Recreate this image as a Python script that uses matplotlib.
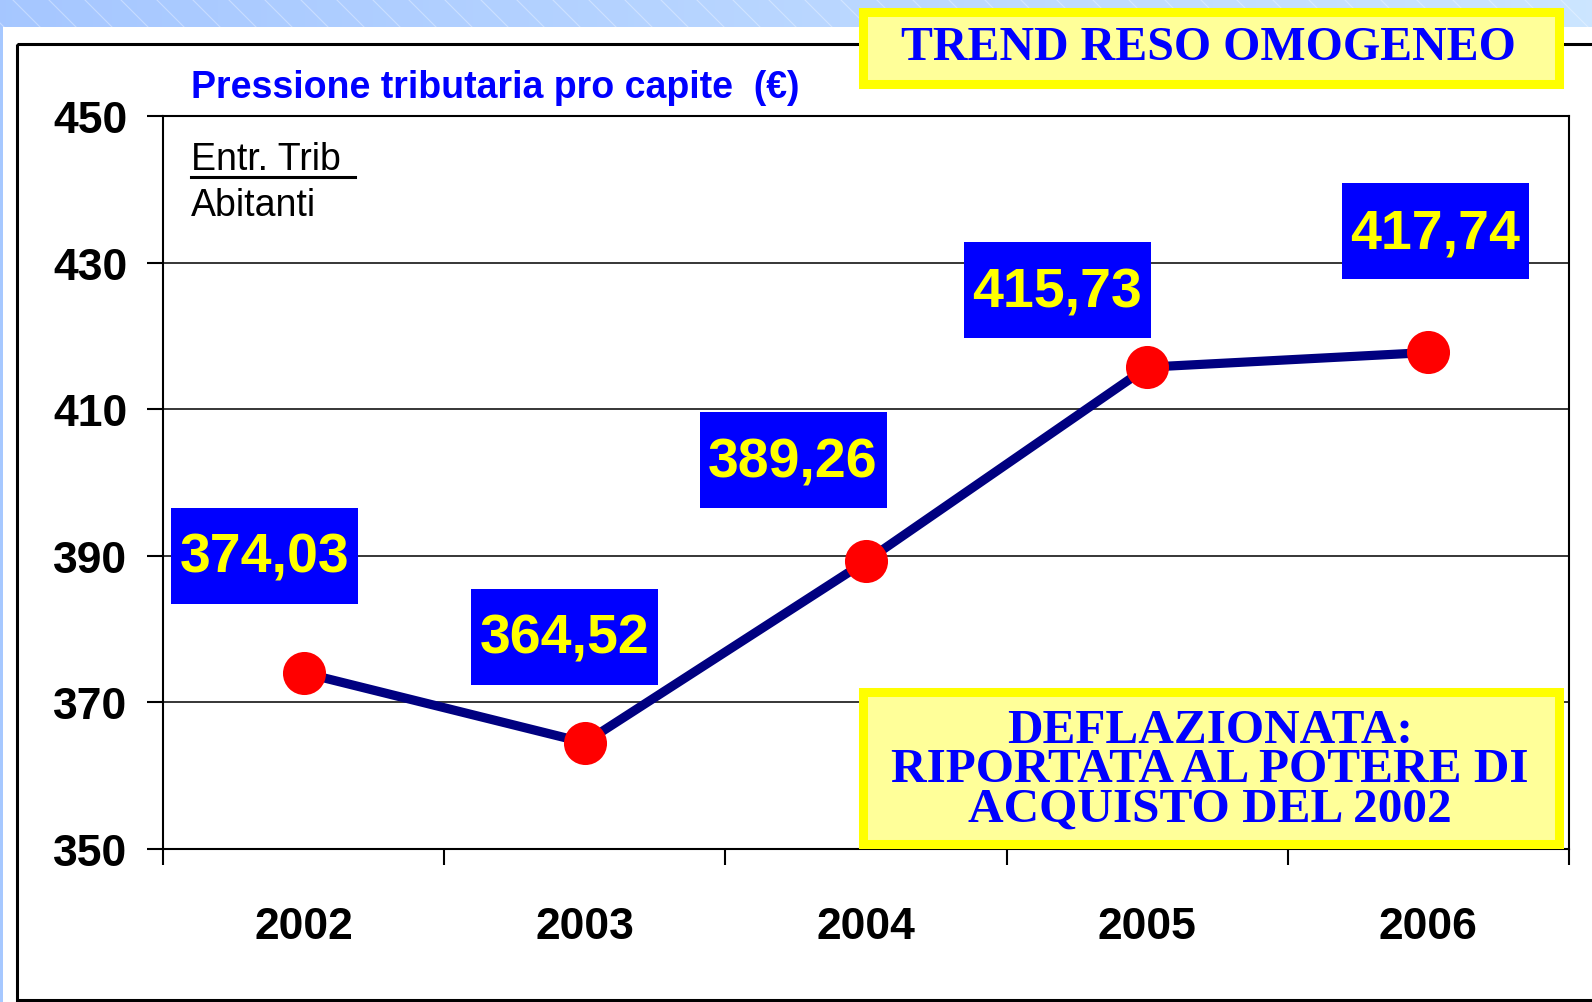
import numpy as np
import matplotlib
matplotlib.use("Agg")
import matplotlib.pyplot as plt
from matplotlib.patches import Rectangle

# dati
anni = ["2002", "2003", "2004", "2005", "2006"]
pressione = [374.03, 364.52, 389.26, 415.73, 417.74]
y_ticks = [350, 370, 390, 410, 430, 450]
# spostamento delle etichette rispetto al punto (pixel, y verso l'alto)
label_offsets = [(-39, 117), (-20, 106), (-73, 101), (-90, 77), (7, 121)]

W, H = 1592, 1003
fig = plt.figure(figsize=(W / 100, H / 100), dpi=100)

sans = "Liberation Sans"
serif = "Liberation Serif"

# sfondo (coordinate in pixel)
bg = fig.add_axes([0, 0, 1, 1], zorder=0)
bg.set_xlim(0, W)
bg.set_ylim(H, 0)
bg.axis("off")
grad = np.linspace(0, 1, 256)
c1 = np.array([0.65, 0.78, 1.0])
c2 = np.array([0.80, 0.90, 1.0])
img = (c1[None, :] * (1 - grad[:, None]) + c2[None, :] * grad[:, None])[None, :, :]
bg.imshow(img, extent=(0, W, 28, 0), aspect="auto", zorder=0)
for x0 in range(-60, W + 40, 36):
    bg.plot([x0, x0 + 28], [0, 28], color="white", alpha=0.35, lw=0.8, zorder=1)
bg.add_patch(Rectangle((0, 28), 3, H - 28, color="#A6C8FF", lw=0, zorder=1))
bg.add_patch(Rectangle((17, 45), 1650, 956, fill=False, ec="black", lw=2.2, zorder=2))

# grafico
ax = fig.add_axes([163 / W, 1 - 850 / H, (1569 - 163) / W, (850 - 117) / H], zorder=1)
x = np.arange(len(anni))
ax.plot(x, pressione, color="#000080", lw=6.6, zorder=3)
ax.plot(x, pressione, "o", color="#FF0000", ms=31, mec="none", zorder=4)

ax.set_xlim(-0.5, len(anni) - 0.5)
ax.set_ylim(y_ticks[0], y_ticks[-1])
ax.set_yticks(y_ticks)
ax.set_yticklabels([str(v) for v in y_ticks], fontfamily=sans, fontweight="bold", fontsize=32)
ax.set_xticks(x)
ax.set_xticklabels(anni, fontfamily=sans, fontweight="bold", fontsize=32)
ax.set_xticks(np.arange(len(anni) + 1) - 0.5, minor=True)
ax.tick_params(axis="x", which="major", length=0, pad=41)
ax.tick_params(axis="x", which="minor", length=11.5, width=1.5, direction="out")
ax.tick_params(axis="y", length=11.5, width=1.5, direction="out", pad=14)
ax.grid(axis="y", color="black", lw=1.1)
for s in ax.spines.values():
    s.set_linewidth(1.5)
ax.set_axisbelow(True)

# riquadri e testi sopra il grafico
ov = fig.add_axes([0, 0, 1, 1], zorder=2)
ov.set_xlim(0, W)
ov.set_ylim(H, 0)
ov.axis("off")
ov.patch.set_alpha(0)

# etichette dei valori
bw, bh = 187, 96
for xi, v, (dx, dy) in zip(x, pressione, label_offsets):
    px, py = ax.transData.transform((xi, v))
    cx, cy = px + dx, H - (py + dy)
    ov.add_patch(Rectangle((cx - bw / 2, cy - bh / 2), bw, bh, fc="#0000FF", ec="none"))
    ov.text(cx, cy + 2, f"{v:.2f}".replace(".", ","), ha="center", va="center",
            fontfamily=sans, fontweight="bold", fontsize=40, color="#FFFF00")

ov.add_patch(Rectangle((862.5, 12.5), 696, 72, fc="#FFFF99", ec="#FFFF00", lw=6.5))
ov.text(1208, 48, "TREND RESO OMOGENEO", ha="center", va="center",
        fontfamily=serif, fontweight="bold", fontsize=34.5, color="#0000FF")

ov.add_patch(Rectangle((862.5, 692.5), 696, 152, fc="#FFFF99", ec="#FFFF00", lw=6.5))
ov.text(1210, 770, "DEFLAZIONATA:\nRIPORTATA AL POTERE DI\nACQUISTO DEL 2002",
        ha="center", va="center", linespacing=0.86,
        fontfamily=serif, fontweight="bold", fontsize=35.5, color="#0000FF")

ov.text(191, 88, "Pressione tributaria pro capite  (€)", ha="left", va="center",
        fontfamily=sans, fontweight="bold", fontsize=27, color="#0000FF")
ov.text(191, 160, "Entr. Trib", ha="left", va="center",
        fontfamily=sans, fontsize=27, color="black")
ov.plot([191, 355], [178, 178], color="black", lw=2.2)
ov.text(191, 206, "Abitanti", ha="left", va="center",
        fontfamily=sans, fontsize=27, color="black")

fig.savefig("out.png", dpi=100)
